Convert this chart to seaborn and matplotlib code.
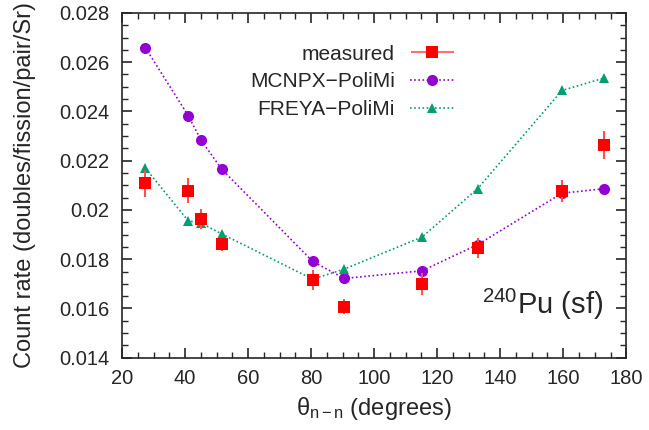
import numpy as np
import pandas as pd
import matplotlib
matplotlib.use("Agg")
import matplotlib.pyplot as plt
from matplotlib.ticker import MultipleLocator
from matplotlib.legend_handler import HandlerErrorbar
import seaborn as sns

angles = [27.4, 41.0, 45.0, 51.6, 80.5, 90.5, 115.2, 132.8, 159.6, 172.8]
measured = [0.02109, 0.02078, 0.01963, 0.01861, 0.01717, 0.01607, 0.01700, 0.01845, 0.02078, 0.02263]
measured_err = [0.00055, 0.00050, 0.00040, 0.00027, 0.00040, 0.00030, 0.00045, 0.00040, 0.00045, 0.00057]
mcnpx = [0.02659, 0.02383, 0.02285, 0.02166, 0.01791, 0.01722, 0.01753, 0.01859, 0.02068, 0.02086]
freya = [0.02170, 0.01956, 0.01947, 0.01903, 0.01719, 0.01760, 0.01890, 0.02086, 0.02485, 0.02535]

sns.set_style("ticks")
plt.rcParams['font.family'] = ['Liberation Sans', 'DejaVu Sans']
plt.rcParams['mathtext.fontset'] = 'custom'
plt.rcParams['mathtext.rm'] = 'Liberation Sans'
plt.rcParams['mathtext.it'] = 'Liberation Sans'

df = pd.DataFrame({"angle": angles, "measured": measured, "err": measured_err,
                   "MCNPX-PoliMi": mcnpx, "FREYA-PoliMi": freya})

fig, ax = plt.subplots(figsize=(6.49, 4.30), dpi=100)

sns.lineplot(data=df, x="angle", y="MCNPX-PoliMi", ax=ax, color="#9400d3", linestyle=(0, (1, 1.5)),
             linewidth=1.2, marker="o", markersize=8, markeredgewidth=0, label="MCNPX\u2212PoliMi")
sns.lineplot(data=df, x="angle", y="FREYA-PoliMi", ax=ax, color="#009e73", linestyle=(0, (1, 1.5)),
             linewidth=1.2, marker="^", markersize=7, markeredgewidth=0, label="FREYA\u2212PoliMi")
ax.errorbar(df["angle"], df["measured"], yerr=df["err"], fmt="s", color="#ff0000",
            ecolor="#ff5050", elinewidth=1.5, capsize=3, capthick=1.2, markersize=8,
            markeredgewidth=0, zorder=5)
# legend proxy drawn with a horizontal bar like the original key
proxy = ax.errorbar([np.nan], [np.nan], xerr=[1], fmt="s", color="#ff0000", ecolor="#ff7070",
                    elinewidth=1.5, capsize=3.5, capthick=1.2, markersize=8, markeredgewidth=0,
                    label="measured")

handles, labels = ax.get_legend_handles_labels()
order = [labels.index("measured"), labels.index("MCNPX\u2212PoliMi"), labels.index("FREYA\u2212PoliMi")]
ax.legend([handles[i] for i in order], [labels[i] for i in order], loc="upper right",
          bbox_to_anchor=(0.661, 0.908), frameon=False, markerfirst=False, fontsize=15,
          handlelength=2.2, labelspacing=0.42, handletextpad=0.7, borderpad=0, borderaxespad=0,
          handler_map={proxy: HandlerErrorbar(xerr_size=1.05)})

ax.text(0.955, 0.105, "$^{240}$Pu (sf)", transform=ax.transAxes, ha="right", va="bottom", fontsize=21)

ax.set_xlim(20, 180)
ax.set_ylim(0.014, 0.028)
ax.xaxis.set_major_locator(MultipleLocator(20))
ax.xaxis.set_minor_locator(MultipleLocator(5))
ax.yaxis.set_minor_locator(MultipleLocator(0.0005))
ax.set_yticks(np.arange(0.014, 0.0281, 0.002))
ax.set_yticklabels(["0.014", "0.016", "0.018", "0.02", "0.022", "0.024", "0.026", "0.028"])
ax.tick_params(which="both", direction="in", top=True, right=True, labelsize=14.5)
ax.tick_params(which="major", length=7, width=1.2)
ax.tick_params(which="minor", length=4, width=1)
ax.tick_params(axis="y", pad=9)
ax.tick_params(axis="x", pad=8)
for s in ax.spines.values():
    s.set_linewidth(1.2)

ax.set_xlabel("$\\theta_{\\mathrm{n\u2212n}}$ (degrees)", fontsize=17, labelpad=5)
ax.set_ylabel("Count rate (doubles/fission/pair/Sr)", fontsize=17, labelpad=17)

fig.subplots_adjust(left=0.188, right=0.965, top=0.97, bottom=0.168)
fig.savefig("out.png", dpi=100)
